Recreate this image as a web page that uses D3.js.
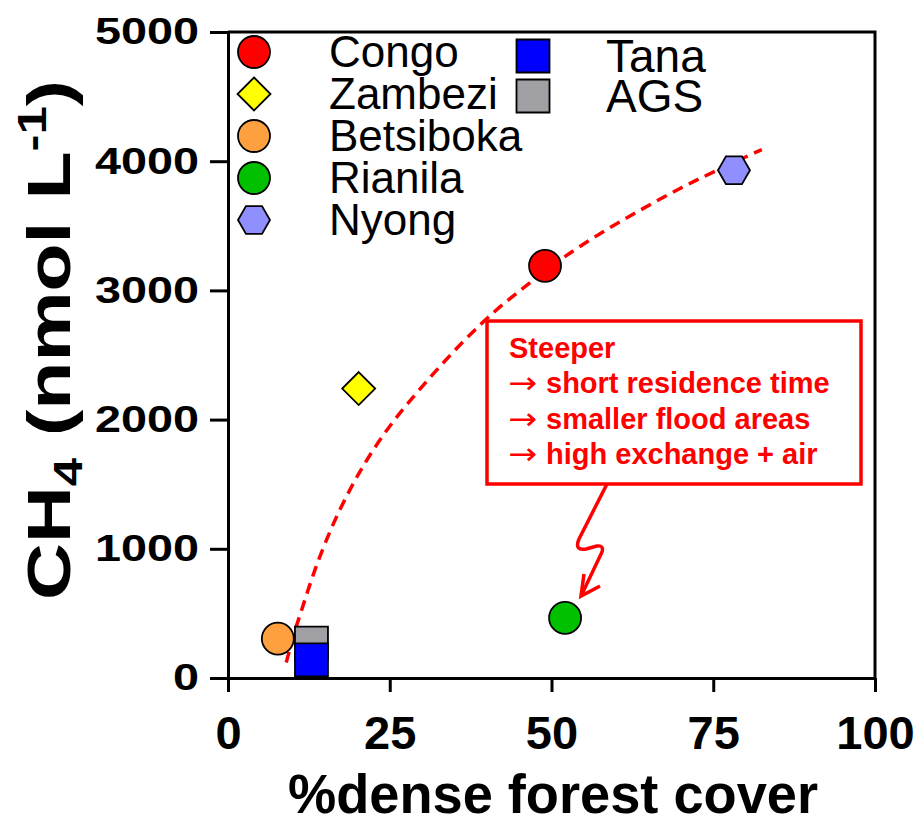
<!DOCTYPE html>
<html>
<head>
<meta charset="utf-8">
<script src="https://cdn.jsdelivr.net/npm/d3@7"></script>
<style>
  body { margin: 0; background: #fff; }
  svg text { font-family: "Liberation Sans", Arial, sans-serif; }
  svg text.arrow { font-family: "DejaVu Sans", sans-serif; }
</style>
</head>
<body>
<div id="wrapper"></div>
<script>
// data
const sites = ["Congo", "Zambezi", "Betsiboka", "Rianila", "Nyong", "AGS", "Tana"]
const forestCover = [49.0, 20.2, 7.7, 52.1, 78.2, 12.9, 12.9]
const ch4 = [3190, 2240, 305, 465, 3930, 270, 140]
const siteColors = ["#ff0000", "#ffff00", "#ffa040", "#00c000", "#8f8fff", "#a0a0a4", "#0000ff"]
const siteShapes = ["circle", "diamond", "circle", "circle", "hexagon", "square", "square"]

// hand-drawn dashed trend line
const trendX = [9.0, 10.4, 11.1, 13.1, 15.8, 18.9, 21.9, 25.5, 29.7, 34.3, 39.4, 43.6, 47.1, 51.3, 57.5, 63.7, 69.9, 75.0, 81.9, 82.5]
const trendY = [120, 380, 480, 800, 1150, 1470, 1730, 1990, 2240, 2500, 2760, 2940, 3075, 3240, 3443, 3622, 3793, 3916, 4077, 4090]

const xTicks = [0, 25, 50, 75, 100]
const yTicks = [0, 1000, 2000, 3000, 4000, 5000]

const legendCol1 = ["Congo", "Zambezi", "Betsiboka", "Rianila", "Nyong"]
const legendCol2 = ["Tana", "AGS"]

const noteLines = ["short residence time", "smaller flood areas", "high exchange + air"]

function drawChart() {
    const dimensions = {
        width: 920,
        height: 825,
        margin: { top: 32, right: 45, bottom: 147, left: 228 },
    }
    dimensions.boundedWidth = dimensions.width - dimensions.margin.left - dimensions.margin.right
    dimensions.boundedHeight = dimensions.height - dimensions.margin.top - dimensions.margin.bottom

    const wrapper = d3.select("#wrapper")
        .append("svg")
        .attr("width", dimensions.width)
        .attr("height", dimensions.height)

    wrapper.append("rect")
        .attr("width", dimensions.width)
        .attr("height", dimensions.height)
        .attr("fill", "#fff")

    const bounds = wrapper.append("g")
        .attr("transform", `translate(${dimensions.margin.left},${dimensions.margin.top})`)

    const xScale = d3.scaleLinear()
        .domain([0, 100])
        .range([0, dimensions.boundedWidth])

    const yScale = d3.scaleLinear()
        .domain([0, 5000])
        .range([dimensions.boundedHeight, 0])

    // frame top + right
    bounds.append("path")
        .attr("d", `M0,0 H${dimensions.boundedWidth} V${dimensions.boundedHeight}`)
        .attr("fill", "none")
        .attr("stroke", "#000")
        .attr("stroke-width", 3)

    // axes
    const yAxis = bounds.append("g")
        .call(d3.axisLeft(yScale).tickValues(yTicks).tickFormat(d3.format("d"))
            .tickSize(18).tickSizeOuter(0).tickPadding(11))
    const xAxis = bounds.append("g")
        .attr("transform", `translate(0,${dimensions.boundedHeight})`)
        .call(d3.axisBottom(xScale).tickValues(xTicks).tickFormat(d3.format("d"))
            .tickSize(14).tickSizeOuter(0).tickPadding(24))

    ;[xAxis, yAxis].forEach(ax => {
        ax.selectAll("path, line").attr("stroke", "#000").attr("stroke-width", 3)
    })
    yAxis.selectAll("text")
        .attr("font-size", 37)
        .attr("font-weight", "bold")
        .attr("fill", "#000")
        .attr("textLength", d => String(d).length * 26)
        .attr("lengthAdjust", "spacingAndGlyphs")
    xAxis.selectAll("text")
        .attr("font-size", 47)
        .attr("font-weight", "bold")
        .attr("fill", "#000")

    // axis titles
    wrapper.append("text")
        .attr("x", 553)
        .attr("y", 813)
        .attr("text-anchor", "middle")
        .attr("font-size", 55)
        .attr("font-weight", "bold")
        .attr("textLength", 530)
        .attr("lengthAdjust", "spacingAndGlyphs")
        .text("%dense forest cover")

    const yTitle = wrapper.append("text")
        .attr("transform", "translate(70,340) rotate(-90)")
        .attr("text-anchor", "middle")
        .attr("font-size", 62)
        .attr("font-weight", "bold")
        .attr("textLength", 520)
        .attr("lengthAdjust", "spacingAndGlyphs")
    yTitle.append("tspan").text("CH")
    yTitle.append("tspan").attr("font-size", 40).attr("dy", 12).text("4")
    yTitle.append("tspan").attr("dy", -12).text(" (nmol L")
    yTitle.append("tspan").attr("font-size", 40).attr("dy", -24).text("-1")
    yTitle.append("tspan").attr("dy", 24).text(")")

    // trend line
    const trend = trendX.map((x, i) => [x, trendY[i]])
    bounds.append("path")
        .datum(trend)
        .attr("d", d3.line().x(d => xScale(d[0])).y(d => yScale(d[1])).curve(d3.curveBasis))
        .attr("fill", "none")
        .attr("stroke", "#ff0000")
        .attr("stroke-width", 3.5)
        .attr("stroke-dasharray", "11,7")

    // symbols
    function symbolPath(shape) {
        if (shape === "circle") return d3.symbol(d3.symbolCircle, Math.PI * 16 * 16)()
        if (shape === "square") return "M-16.5,-16.5H16.5V16.5H-16.5Z"
        if (shape === "diamond") return "M0,-16.5L16.5,0L0,16.5L-16.5,0Z"
        // flat top hexagon
        const pts = d3.range(6).map(k => [16 * Math.cos(k * Math.PI / 3), 16 * Math.sin(k * Math.PI / 3)])
        return "M" + pts.join("L") + "Z"
    }

    bounds.selectAll(".pt")
        .data(sites)
        .join("path")
        .attr("class", "pt")
        .attr("transform", (d, i) => `translate(${xScale(forestCover[i])},${yScale(ch4[i])})`)
        .attr("d", (d, i) => symbolPath(siteShapes[i]))
        .attr("fill", (d, i) => siteColors[i])
        .attr("stroke", "#000")
        .attr("stroke-width", 1.8)

    // legend
    const legend = wrapper.append("g")
    legendCol1.forEach((name, i) => {
        const k = sites.indexOf(name)
        const y = 52 + i * 42
        legend.append("path")
            .attr("transform", `translate(254,${y})`)
            .attr("d", symbolPath(siteShapes[k]))
            .attr("fill", siteColors[k])
            .attr("stroke", "#000")
            .attr("stroke-width", 1.8)
        legend.append("text")
            .attr("x", 329)
            .attr("y", y + 15)
            .attr("font-size", 44)
            .text(name)
    })
    legendCol2.forEach((name, i) => {
        const k = sites.indexOf(name)
        const y = 56 + i * 40
        legend.append("path")
            .attr("transform", `translate(533,${y})`)
            .attr("d", symbolPath(siteShapes[k]))
            .attr("fill", siteColors[k])
            .attr("stroke", "#000")
            .attr("stroke-width", 1.8)
        legend.append("text")
            .attr("x", 606)
            .attr("y", y + 16)
            .attr("font-size", 46)
            .text(name)
    })

    // annotation box
    const note = wrapper.append("g")
    note.append("rect")
        .attr("x", 487).attr("y", 321)
        .attr("width", 374).attr("height", 163)
        .attr("fill", "#fff")
        .attr("stroke", "#ff0000")
        .attr("stroke-width", 3.5)
    note.append("text")
        .attr("x", 509).attr("y", 358)
        .attr("font-size", 29).attr("font-weight", "bold").attr("fill", "#ff0000")
        .text("Steeper")
    noteLines.forEach((t, i) => {
        const y = 393 + i * 35.5
        note.append("text")
            .attr("class", "arrow")
            .attr("x", 508).attr("y", y)
            .attr("font-size", 30).attr("fill", "#ff0000")
            .attr("textLength", 29)
            .attr("lengthAdjust", "spacingAndGlyphs")
            .text("\u2192")
        note.append("text")
            .attr("x", 546).attr("y", y)
            .attr("font-size", 29).attr("font-weight", "bold").attr("fill", "#ff0000")
            .text(t)
    })

    // squiggly arrow to Rianila
    note.append("path")
        .attr("d", "M607,484 L579,539 Q574,551 586,549 L597,546 Q604,545 602,552 L582,594")
        .attr("fill", "none")
        .attr("stroke", "#ff0000")
        .attr("stroke-width", 3.5)
        .attr("stroke-linejoin", "round")
    note.append("path")
        .attr("d", "M584,574 L581,596 L600,586")
        .attr("fill", "none")
        .attr("stroke", "#ff0000")
        .attr("stroke-width", 3.5)
}

drawChart()
</script>
</body>
</html>
